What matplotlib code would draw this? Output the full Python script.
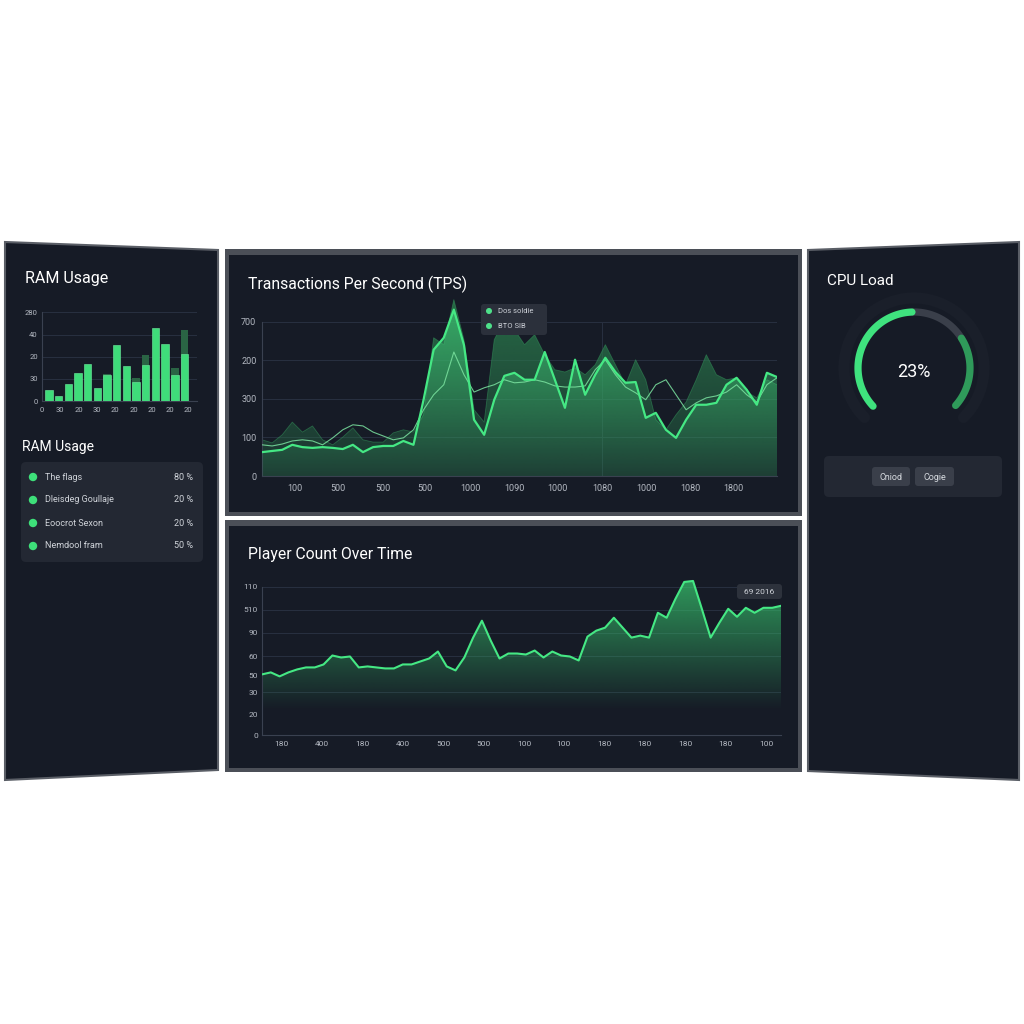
import numpy as np
import matplotlib
matplotlib.use('Agg')
import matplotlib.pyplot as plt
import matplotlib.colors as mcolors
from matplotlib.patches import Polygon, FancyBboxPatch, Circle

plt.rcParams['font.family'] = ['Roboto', 'DejaVu Sans']

BG = '#161b26'
FRAME = '#4b4f57'
GRID = '#283040'
TICK = '#b4b9c2'
GREEN = '#45e884'

# ---- RAM usage (left panel)
ram_values = [5.1, 2.2, 7.9, 12.6, 16.5, 6.0, 11.8, 25.3, 15.6, 8.7, 16.2, 32.9, 25.9, 11.8, 21.2]
ram_shadow = [0, 0, 0, 0, 0, 0, 12.4, 0, 0, 10.3, 20.9, 0, 0, 15.0, 31.9]
ram_yticks = [0, 10, 20, 30, 40]
ram_ylabels = ['0', '30', '20', '40', '280']
ram_xlabels = ['0', '30', '20', '30', '20', '20', '20', '20', '20']
ram_items = ['The flags', 'Dleisdeg Goullaje', 'Eoocrot Sexon', 'Nemdool fram']
ram_pcts = ['80 %', '20 %', '20 %', '50 %']

# ---- TPS (top middle)
tps_main = [62, 65, 68, 81, 75, 73, 75, 73, 70, 81, 62, 75, 78, 78, 91, 81, 198, 328, 359, 432,
            340, 146, 107, 198, 260, 268, 250, 250, 322, 250, 177, 302, 211, 263, 307, 270, 242,
            244, 151, 164, 120, 99, 146, 185, 185, 190, 237, 255, 224, 185, 268, 257]
tps_back = [94, 86, 107, 140, 114, 130, 94, 81, 101, 125, 94, 88, 88, 112, 120, 114, 159, 359,
            341, 458, 354, 172, 140, 354, 406, 380, 341, 367, 315, 276, 270, 281, 263, 289, 341,
            289, 237, 302, 250, 146, 120, 159, 192, 250, 315, 263, 250, 255, 218, 203, 250, 237]
tps_thin = [81, 78, 83, 91, 94, 91, 81, 99, 120, 133, 130, 114, 104, 94, 99, 120, 172, 211, 237,
            322, 263, 218, 229, 237, 250, 242, 244, 250, 244, 234, 231, 231, 234, 276, 302, 263,
            231, 216, 198, 237, 250, 211, 172, 190, 203, 208, 218, 237, 211, 192, 237, 255]
tps_yticks = [0, 100, 200, 300, 400]
tps_ylabels = ['0', '100', '300', '200', '700']
tps_xticks = [3.3, 7.5, 12.0, 16.1, 20.6, 25.0, 29.3, 33.7, 38.1, 42.4, 46.7]
tps_xlabels = ['100', '500', '500', '500', '1000', '1090', '1000', '1080', '1000', '1080', '1800']
tps_legend = ['Dos soldie', 'BTO SIB']

# ---- Player count (bottom middle)
players = [61, 63, 59, 63, 66, 68, 68, 71, 80, 78, 79, 68, 69, 68, 67, 67, 71, 71, 74, 77,
           84, 69, 65, 78, 98, 115, 95, 77, 82, 82, 81, 85, 78, 84, 80, 79, 75, 99, 105, 108,
           118, 108, 98, 100, 98, 123, 118, 137, 154, 155, 127, 98, 113, 127, 119, 128, 123, 128,
           128, 130]
player_yticks = [0, 21, 43, 60, 79, 103, 126, 149]
player_ylabels = ['0', '20', '30', '50', '60', '90', '510', '110']
player_grid = [43, 79, 103, 126, 149]
player_xticks = [2.2, 6.8, 11.4, 16.0, 20.6, 25.2, 29.8, 34.3, 38.9, 43.5, 48.1, 52.7, 57.3]
player_xlabels = ['180', '400', '180', '400', '500', '500', '100', '100', '180', '180', '180',
                  '180', '100']
player_tip = '69 2016'

# ---- CPU load (right panel)
cpu_load = '23%'
cpu_parts = [0.494, 0.226, 0.280]
cpu_colors = ['#3fe27e', '#3a3f4a', '#2f9a5a']
cpu_buttons = ['Cniod', 'Cogie']


fig = plt.figure(figsize=(10.24, 10.24), dpi=100)
fig.patch.set_facecolor('white')


def px_axes(x0, y0, x1, y1, z=1):
    return fig.add_axes([x0 / 1024, 1 - y1 / 1024, (x1 - x0) / 1024, (y1 - y0) / 1024], zorder=z)


def pixel_layer(z):
    a = fig.add_axes([0, 0, 1, 1], zorder=z)
    a.set_xlim(0, 1024)
    a.set_ylim(1024, 0)
    a.axis('off')
    a.patch.set_alpha(0)
    return a


def box(a, x, y, w, h, color, r=4):
    a.add_patch(FancyBboxPatch((x, y), w, h, boxstyle=f'round,pad=0,rounding_size={r}',
                               facecolor=color, edgecolor='none'))


def grad_fill(ax, x, y, color, a_top, a_bot, y0, ytop, z=1):
    verts = [(x[0], 0)] + list(zip(x, y)) + [(x[-1], 0)]
    clip = Polygon(verts, facecolor='none', edgecolor='none')
    ax.add_patch(clip)
    img = np.zeros((256, 1, 4))
    img[:, 0, :3] = mcolors.to_rgb(color)
    img[:, 0, 3] = np.linspace(a_top, a_bot, 256)
    im = ax.imshow(img, aspect='auto', extent=[x[0], x[-1], y0, ytop], origin='upper',
                   zorder=z, interpolation='bilinear')
    im.set_clip_path(clip)


def style_ax(ax, fs=6):
    ax.set_facecolor('none')
    for s in ['top', 'right']:
        ax.spines[s].set_visible(False)
    for s in ['left', 'bottom']:
        ax.spines[s].set_color('#3a4150')
        ax.spines[s].set_linewidth(0.8)
    ax.tick_params(length=0, labelsize=fs, colors=TICK)


bg = pixel_layer(0)

# panels
bg.add_patch(Polygon([(5, 242), (218, 250), (218, 770), (5, 780)], closed=True,
                     facecolor=BG, edgecolor='#5a5e66', lw=1.5))
bg.add_patch(Polygon([(808, 250), (1019, 242), (1019, 780), (808, 771)], closed=True,
                     facecolor=BG, edgecolor='#5a5e66', lw=1.5))
for (x0, y0, x1, y1) in [(225, 249, 802, 516), (225, 520, 802, 772)]:
    bg.add_patch(plt.Rectangle((x0, y0), x1 - x0, y1 - y0, facecolor=FRAME, edgecolor='none'))
    bg.add_patch(plt.Rectangle((x0 + 4, y0 + 6), x1 - x0 - 8, y1 - y0 - 10, facecolor=BG,
                               edgecolor='none'))

# left panel texts
bg.text(25, 279, 'RAM Usage', color='white', fontsize=11.5, va='center')
bg.text(22, 447, 'RAM Usage', color='white', fontsize=10, va='center')
box(bg, 21, 462, 182, 100, '#232833', 5)
for i, (name, pct) in enumerate(zip(ram_items, ram_pcts)):
    yy = 477 + i * 23
    bg.add_patch(Circle((33, yy), 3.5, color='#3ee07a'))
    bg.text(45, yy, name, color='#d0d4da', fontsize=6.5, va='center')
    bg.text(193, yy, pct, color='#d0d4da', fontsize=6.5, va='center', ha='right')

# middle titles
bg.text(248, 284, 'Transactions Per Second (TPS)', color='white', fontsize=11.3, va='center')
bg.text(248, 555, 'Player Count Over Time', color='white', fontsize=11.3, va='center')

# right panel
bg.text(827, 281, 'CPU Load', color='white', fontsize=11, va='center')
cx, cy, r = 914, 368, 56
t = np.radians(np.linspace(225, -45, 200))
bg.plot(cx + 70 * np.cos(t), cy - 70 * np.sin(t), color='#1a1f2a', lw=8, solid_capstyle='round')
start = 223.0
span = 265.0
for frac, col in zip(cpu_parts, cpu_colors):
    end = start - frac * span
    t = np.radians(np.linspace(start, end, 120))
    cap = 'butt' if col == '#3a3f4a' else 'round'
    bg.plot(cx + r * np.cos(t), cy - r * np.sin(t), color=col, lw=5.2, solid_capstyle=cap,
            zorder=3 if cap == 'round' else 2)
    start = end
bg.text(cx, cy + 4, cpu_load, color='white', fontsize=13, ha='center', va='center')
box(bg, 824, 456, 178, 41, '#232833', 5)
for bx, bw, lab in [(872, 38, cpu_buttons[0]), (915, 39, cpu_buttons[1])]:
    box(bg, bx, 467, bw, 19, '#3a3f4a', 3)
    bg.text(bx + bw / 2, 477, lab, color='#d7dbe0', fontsize=6.5, ha='center', va='center')

# ---- RAM bar chart
ax1 = px_axes(42, 308, 197, 401, z=2)
style_ax(ax1, 5.5)
idx = np.arange(len(ram_values))
ax1.bar(idx, ram_shadow, width=0.78, color='#2a6444', zorder=2)
ax1.bar(idx, ram_values, width=0.78, color='#3fdc7a', edgecolor='#6ff0a0', lw=0.4, zorder=3)
ax1.set_ylim(0, 42)
ax1.set_xlim(-0.72, 15.3)
ax1.set_yticks(ram_yticks)
ax1.set_yticklabels(ram_ylabels)
ax1.set_xticks(np.linspace(-0.72, 14.4, len(ram_xlabels)))
ax1.set_xticklabels(ram_xlabels)
ax1.tick_params(axis='y', pad=3)
ax1.tick_params(axis='x', pad=4)
ax1.spines['left'].set_bounds(0, 40)
for v in ram_yticks[1:]:
    ax1.axhline(v, color=GRID, lw=0.7, zorder=1)

# ---- TPS chart
ax2 = px_axes(262, 295, 777, 476, z=2)
style_ax(ax2, 6.5)
x = np.arange(len(tps_main))
grad_fill(ax2, x, tps_back, '#2a7a4c', 0.85, 0.25, 0, 470, z=2)
ax2.plot(x, tps_back, color='#35995d', lw=0.6, alpha=0.5, zorder=2)
grad_fill(ax2, x, tps_main, '#43d97f', 0.6, 0.08, 0, 470, z=3)
ax2.plot(x, tps_thin, color='#7be3a0', lw=0.8, alpha=0.85, zorder=4)
ax2.plot(x, tps_main, color=GREEN, lw=1.6, zorder=5)
ax2.set_xlim(0, len(x) - 1)
ax2.set_ylim(0, 470)
ax2.set_yticks(tps_yticks)
ax2.set_yticklabels(tps_ylabels)
ax2.set_xticks(tps_xticks)
ax2.set_xticklabels(tps_xlabels)
ax2.tick_params(axis='y', pad=4)
ax2.tick_params(axis='x', pad=6)
ax2.spines['left'].set_bounds(0, 400)
for v in tps_yticks[1:]:
    ax2.axhline(v, color=GRID, lw=0.7, zorder=1)
ax2.axvline(tps_xticks[7], ymax=400 / 470, color=GRID, lw=0.7, zorder=1)

# ---- Player chart
ax3 = px_axes(262, 576, 781, 735, z=2)
style_ax(ax3, 6)
xp = np.arange(len(players))
grad_fill(ax3, xp, players, '#38c86f', 0.75, 0.0, 25, 160, z=2)
ax3.plot(xp, players, color=GREEN, lw=1.5, zorder=4)
ax3.set_xlim(0, len(xp) - 1)
ax3.set_ylim(0, 160)
ax3.set_yticks(player_yticks)
ax3.set_yticklabels(player_ylabels)
ax3.set_xticks(player_xticks)
ax3.set_xticklabels(player_xlabels)
ax3.tick_params(axis='y', pad=3)
ax3.tick_params(axis='x', pad=4)
ax3.spines['left'].set_bounds(0, 149)
for v in player_grid:
    ax3.axhline(v, color=GRID, lw=0.7, zorder=1)

# ---- overlays (legend, tooltip)
top = pixel_layer(5)
box(top, 481, 304, 66, 31, '#2b303b', 3)
for i, lab in enumerate(tps_legend):
    yy = 311 + i * 15
    top.add_patch(Circle((489, yy), 2.3, color='#4ee08a'))
    top.text(498, yy, lab, color='#c8ccd3', fontsize=5.5, va='center')
box(top, 737, 584, 45, 15, '#2d323c', 3)
top.text(759.5, 591.5, player_tip, color='#d0d4da', fontsize=6, ha='center', va='center')

fig.savefig('out.png', dpi=100, facecolor='white')
